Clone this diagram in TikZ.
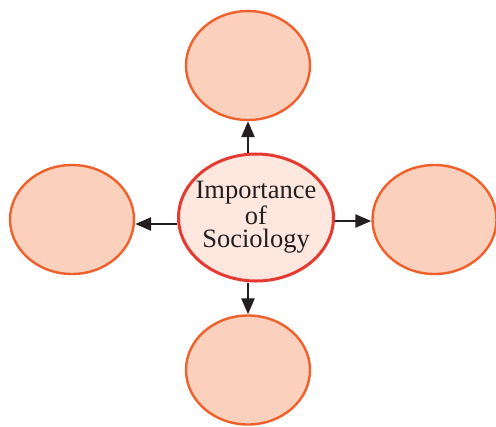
\documentclass[tikz,border=0pt]{standalone}
\usepackage{fontspec}
\setmainfont{Liberation Serif}
\usetikzlibrary{shapes.geometric,arrows.meta,calc}
\definecolor{petal}{HTML}{FBD0BC}
\definecolor{petaledge}{HTML}{F0602A}
\definecolor{hubfill}{HTML}{FDE7DF}
\definecolor{hubedge}{HTML}{E63A30}
\definecolor{arrowcol}{HTML}{231F20}
\tikzset{
  petalnode/.style={ellipse, draw=petaledge, fill=petal, line width=2.4bp, inner sep=0pt, minimum width=124bp, minimum height=109bp},
  hubnode/.style={ellipse, draw=hubedge, fill=hubfill, line width=3bp, inner xsep=-6bp, inner ysep=0pt, minimum width=155bp, minimum height=127bp, align=center, font=\fontsize{26.5bp}{23.5bp}\selectfont, text=arrowcol},
  arr/.style={draw=arrowcol, line width=2.5bp, -{Triangle[length=16bp,width=13bp]}}
}
\begin{document}
\begin{tikzpicture}[x=1bp,y=-1bp]
\useasboundingbox (0,0) rectangle (496,426);
\node[hubnode] (c) at (256,217.5) {Importance\\of\\Sociology};
\node[petalnode] (t) at (248,65.5) {};
\node[petalnode] (l) at (72,219.5) {};
\node[petalnode] (r) at (434.5,219.5) {};
\node[petalnode] (b) at (248,370) {};
\draw[arr] ($(c.north)+(-8,0)$) -- (t.south);
\draw[arr] ($(c.south)+(-8,0)$) -- (b.north);
\draw[arr] ($(c.west)+(0,6.5)$) -- ($(l.east)+(0,4.5)$);
\draw[arr] ($(c.east)+(0,3.5)$) -- ($(r.west)+(0,1.5)$);
\end{tikzpicture}
\end{document}
